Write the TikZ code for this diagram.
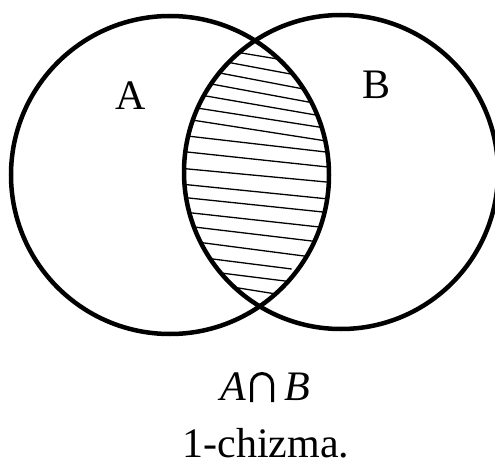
\documentclass[tikz,border=0pt]{standalone}
\usepackage{fontspec}
\setmainfont{Liberation Serif}
\usetikzlibrary{calc}
\begin{document}
\begin{tikzpicture}[x=1pt,y=-1pt,
  ring/.style={line width=4.5pt},
  hatch/.style={line width=1.3pt},
  lbl/.style={inner sep=0pt,font=\fontsize{42}{44}\selectfont},
  captext/.style={inner sep=0pt,anchor=base,font=\fontsize{42}{44}\selectfont},
  capsym/.style={line width=3pt}]
\useasboundingbox (0,0) rectangle (495,465);
\coordinate (ca) at (170,175);
\coordinate (cb) at (341,172);
% hatching clipped to the lens
\begin{scope}
  \clip (ca) circle (159pt);
  \clip (cb) circle (157pt);
  \foreach \xa/\ya/\xb/\yb in {
    243.3/53.3/273.3/58.3,
    233.3/63.3/286.7/73.3,
    225/74/296.7/87.7,
    216.7/85/306.7/101.7,
    210/96.7/311.7/114.3,
    203.3/109/316.7/126.7,
    198.3/121/320/140,
    193.3/136.7/323.3/151.7,
    190/152.3/325/166.7,
    188.3/169/323.3/181.7,
    190/185/321.7/198.3,
    191.7/198.3/320/211.7,
    195/213.3/316.7/226.7,
    200/227.7/311.7/241,
    206.7/243.3/301.7/255.7,
    223.3/273.3/285/281,
    236.7/287.7/271.7/293.3}
  {\draw[hatch] ($(\xa,\ya)!-0.2!(\xb,\yb)$) -- ($(\xb,\yb)!-0.2!(\xa,\ya)$);}
  \draw[hatch] ($(215,259.3)!-0.2!(291.7,269)$) -- (291.7,269);
\end{scope}
\draw[ring] (ca) circle (159pt);
\draw[ring] (cb) circle (157pt);
\node[lbl] (la) at (131,96) {A};
\node[lbl] (lb) at (377,85) {B};
% A \bigcap B
\node[captext] (ia) at (233,400) {\itshape A};
\node[captext] (ib) at (297,400) {\itshape B};
\draw[capsym] (251.5,402) -- (251.5,384) arc[start angle=180,end angle=360,radius=10.5] -- (272.5,402);
\node[captext] (ch) at (266,457) {1-chizma.};
\end{tikzpicture}
\end{document}
